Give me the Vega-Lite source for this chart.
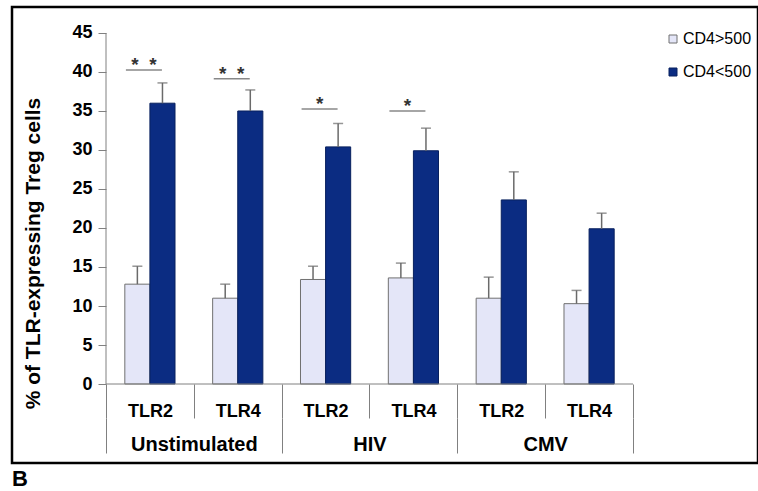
{
  "$schema": "https://vega.github.io/schema/vega-lite/v6.json",
  "width": 746,
  "height": 456,
  "autosize": "none",
  "padding": {"left": 12, "top": 7, "right": 0, "bottom": 28},
  "background": "white",
  "config": {"view": {"stroke": "#000000", "strokeWidth": 2.5}, "font": "Liberation Sans"},
  "title": {"text": "B", "orient": "bottom", "anchor": "start", "frame": "group", "fontSize": 22, "fontWeight": "bold", "font": "Liberation Sans", "color": "#000000", "offset": 6},
  "datasets": {
    "bars": [
      {"cond": "Unstimulated|TLR2", "group": "Unstimulated", "series": "CD4>500", "value": 12.8, "upper": 15.1},
      {"cond": "Unstimulated|TLR2", "group": "Unstimulated", "series": "CD4<500", "value": 36.0, "upper": 38.6},
      {"cond": "Unstimulated|TLR4", "group": "Unstimulated", "series": "CD4>500", "value": 11.0, "upper": 12.8},
      {"cond": "Unstimulated|TLR4", "group": "Unstimulated", "series": "CD4<500", "value": 35.0, "upper": 37.7},
      {"cond": "HIV|TLR2", "group": "HIV", "series": "CD4>500", "value": 13.4, "upper": 15.1},
      {"cond": "HIV|TLR2", "group": "HIV", "series": "CD4<500", "value": 30.4, "upper": 33.4},
      {"cond": "HIV|TLR4", "group": "HIV", "series": "CD4>500", "value": 13.6, "upper": 15.5},
      {"cond": "HIV|TLR4", "group": "HIV", "series": "CD4<500", "value": 29.9, "upper": 32.8},
      {"cond": "CMV|TLR2", "group": "CMV", "series": "CD4>500", "value": 11.0, "upper": 13.7},
      {"cond": "CMV|TLR2", "group": "CMV", "series": "CD4<500", "value": 23.6, "upper": 27.2},
      {"cond": "CMV|TLR4", "group": "CMV", "series": "CD4>500", "value": 10.3, "upper": 12.0},
      {"cond": "CMV|TLR4", "group": "CMV", "series": "CD4<500", "value": 19.9, "upper": 21.9}
    ],
    "sig": [
      {"cond": "Unstimulated|TLR2", "y": 40.26, "label": "*\u00a0\u00a0*"},
      {"cond": "Unstimulated|TLR4", "y": 39.14, "label": "*\u00a0\u00a0*"},
      {"cond": "HIV|TLR2", "y": 35.26, "label": "*"},
      {"cond": "HIV|TLR4", "y": 35.0, "label": "*"}
    ]
  },
  "layer": [
    {
      "layer": [
        {
          "data": {"name": "bars"},
          "mark": {"type": "bar", "strokeWidth": 1},
          "encoding": {
            "x": {
              "field": "cond", "type": "nominal", "title": null,
              "scale": {"domain": ["Unstimulated|TLR2", "Unstimulated|TLR4", "HIV|TLR2", "HIV|TLR4", "CMV|TLR2", "CMV|TLR4"], "range": [94, 621], "paddingInner": 0, "paddingOuter": 0},
              "axis": {"orient": "bottom", "offset": -79, "domain": false, "ticks": true, "tickBand": "extent", "tickSize": 34, "tickColor": "#808080", "tickWidth": 1, "labelPadding": -16, "labelAngle": 0, "labelFont": "Liberation Sans", "labelFontSize": 18, "labelFontWeight": "bold", "labelColor": "#000000", "labelExpr": "split(datum.label, '|')[1]", "grid": false, "title": null}
            },
            "xOffset": {"field": "series", "type": "nominal", "scale": {"domain": ["CD4>500", "CD4<500"], "paddingInner": 0, "paddingOuter": 0.75}},
            "y": {
              "field": "value", "type": "quantitative", "title": "% of TLR-expressing Treg cells",
              "scale": {"domain": [-10.128, 48.333], "nice": false, "zero": false},
              "axis": {"orient": "left", "offset": -94, "domain": false, "grid": false, "values": [0, 5, 10, 15, 20, 25, 30, 35, 40, 45], "tickSize": 8, "tickColor": "#808080", "labelPadding": 6, "labelFont": "Liberation Sans", "labelFontSize": 18, "labelFontWeight": "bold", "labelColor": "#000000", "titleFont": "Liberation Sans", "titleFontSize": 21, "titleFontWeight": "bold", "titleColor": "#000000", "titleAngle": -90, "titleX": -73, "titleY": 246, "titleAlign": "center", "titleBaseline": "middle"}
            },
            "fill": {"field": "series", "type": "nominal", "scale": {"domain": ["CD4>500", "CD4<500"], "range": ["#E4E6F8", "#0B2C82"]},
              "legend": {"orient": "none", "legendX": 653, "legendY": 24, "title": null, "symbolType": "square", "symbolSize": 64, "symbolStrokeWidth": 1, "labelFont": "Liberation Sans", "labelFontSize": 16, "labelColor": "#000000", "rowPadding": 17, "padding": 0, "labelOffset": 2}},
            "stroke": {"field": "series", "type": "nominal", "scale": {"domain": ["CD4>500", "CD4<500"], "range": ["#707070", "#08205E"]},
              "legend": {"orient": "none", "legendX": 653, "legendY": 24, "title": null, "symbolType": "square", "symbolSize": 64, "symbolStrokeWidth": 1, "labelFont": "Liberation Sans", "labelFontSize": 16, "labelColor": "#000000", "rowPadding": 17, "padding": 0, "labelOffset": 2}}
          }
        },
        {
          "data": {"name": "bars"},
          "mark": {"type": "rule", "color": "#6A6A6A", "strokeWidth": 1.5},
          "encoding": {
            "x": {"field": "cond", "type": "nominal", "title": null},
            "xOffset": {"field": "series", "type": "nominal"},
            "y": {"field": "value", "type": "quantitative", "title": "% of TLR-expressing Treg cells"},
            "y2": {"field": "upper"}
          }
        },
        {
          "data": {"name": "bars"},
          "mark": {"type": "tick", "color": "#6A6A6A", "thickness": 1.5, "size": 10, "orient": "horizontal"},
          "encoding": {
            "x": {"field": "cond", "type": "nominal", "title": null},
            "xOffset": {"field": "series", "type": "nominal"},
            "y": {"field": "upper", "type": "quantitative", "title": "% of TLR-expressing Treg cells"}
          }
        },
        {
          "data": {"name": "sig"},
          "mark": {"type": "tick", "color": "#555555", "thickness": 1.5, "size": 36, "xOffset": -6, "orient": "horizontal"},
          "encoding": {
            "x": {"field": "cond", "type": "nominal", "title": null},
            "y": {"field": "y", "type": "quantitative", "title": "% of TLR-expressing Treg cells"}
          }
        },
        {
          "data": {"name": "sig"},
          "mark": {"type": "text", "font": "Liberation Sans", "fontSize": 19, "fontWeight": "bold", "color": "#333333", "baseline": "alphabetic", "dy": 1, "xOffset": -6},
          "encoding": {
            "x": {"field": "cond", "type": "nominal", "title": null},
            "y": {"field": "y", "type": "quantitative", "title": "% of TLR-expressing Treg cells"},
            "text": {"field": "label"}
          }
        },
        {
          "data": {"values": [{}]},
          "mark": {"type": "rule", "color": "#808080", "strokeWidth": 1},
          "encoding": {
            "x": {"datum": "Unstimulated|TLR2", "type": "nominal", "bandPosition": 0},
            "y": {"datum": 0, "type": "quantitative"},
            "y2": {"datum": 45}
          }
        },
        {
          "data": {"values": [{}]},
          "mark": {"type": "rule", "color": "#808080", "strokeWidth": 1},
          "encoding": {
            "x": {"datum": "Unstimulated|TLR2", "type": "nominal", "bandPosition": 0},
            "x2": {"datum": "CMV|TLR4", "bandPosition": 1},
            "y": {"datum": 0, "type": "quantitative"}
          }
        }
      ]
    },
    {
      "data": {"name": "bars"},
      "mark": {"type": "point", "opacity": 0},
      "encoding": {
        "x": {
          "field": "group", "type": "nominal", "title": null,
          "scale": {"domain": ["Unstimulated", "HIV", "CMV"], "range": [94, 621], "paddingInner": 0, "paddingOuter": 0},
          "axis": {"orient": "bottom", "offset": -45, "domain": false, "ticks": true, "tickBand": "extent", "tickSize": 35, "tickColor": "#808080", "tickWidth": 1, "labelPadding": -19, "labelAngle": 0, "labelFont": "Liberation Sans", "labelFontSize": 20, "labelFontWeight": "bold", "labelColor": "#000000", "grid": false, "title": null}
        },
        "y": {"datum": 0, "type": "quantitative"}
      }
    }
  ],
  "resolve": {"scale": {"x": "independent"}, "axis": {"x": "independent"}}
}
